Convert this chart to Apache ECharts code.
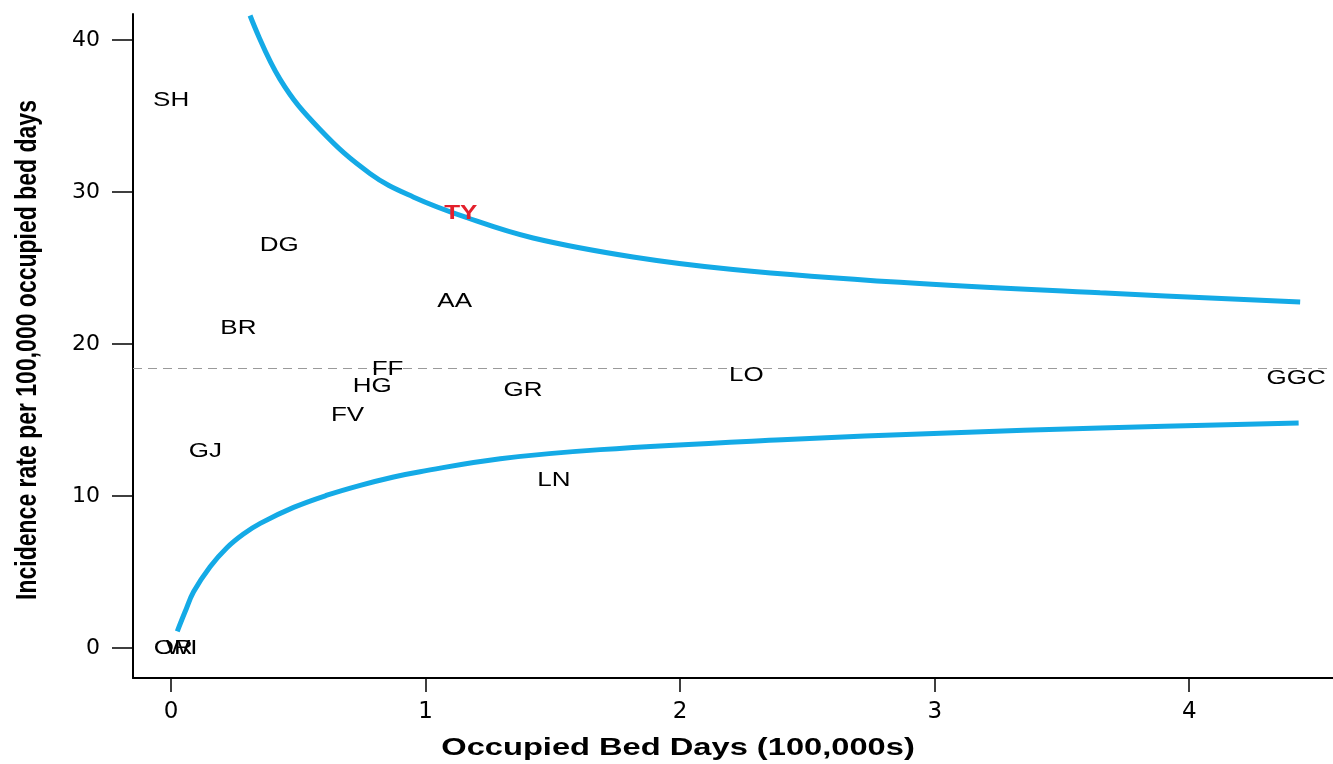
<!DOCTYPE html>
<html>
<head>
<meta charset="utf-8">
<title>Funnel plot</title>
<script src="https://cdn.jsdelivr.net/npm/echarts@6/dist/echarts.min.js"></script>
<style>
  html, body { margin: 0; padding: 0; background: #fff; }
  #chart { width: 1333px; height: 764px; }
</style>
</head>
<body>
<div id="chart"></div>
<script>
// hospital labels and their positions (x = bed days in 100,000s, y = rate)
var sites = ['SH', 'DG', 'TY', 'AA', 'BR', 'FF', 'HG', 'FV', 'GR', 'LO', 'GGC', 'GJ', 'LN', 'OR', 'WI'];
var siteX = [0.0, 0.425, 1.138, 1.114, 0.264, 0.85, 0.79, 0.693, 1.382, 2.26, 4.42, 0.134, 1.504, 0.008, 0.041];
var siteY = [36.0, 26.5, 28.55, 22.8, 21.0, 18.3, 17.2, 15.3, 16.97, 17.9, 17.76, 12.96, 11.05, 0, 0];
var outlier = 'TY';

// control limits
var upperX = [0.31, 0.428, 0.585, 0.782, 0.951, 1.163, 1.422, 1.815, 2.208, 2.864, 3.65, 4.436];
var upperY = [41.6, 37.4, 34.1, 31.2, 29.67, 28.3, 26.97, 25.72, 24.9, 24.05, 23.36, 22.76];
var lowerX = [0.024, 0.055, 0.088, 0.153, 0.219, 0.284, 0.35, 0.481, 0.612, 0.743, 0.874, 0.978, 1.293, 1.686, 2.4, 3.05, 3.65, 4.43];
var lowerY = [1.1, 2.4, 3.7, 5.35, 6.6, 7.5, 8.2, 9.25, 10.05, 10.7, 11.25, 11.6, 12.45, 13.05, 13.7, 14.15, 14.47, 14.8];

var meanRate = 18.4;

var xTicks = [0, 1, 2, 3, 4];
var yTicks = [0, 10, 20, 30, 40];
var xTitle = 'Occupied Bed Days (100,000s)';
var yTitle = 'Incidence rate per 100,000 occupied bed days';

function pairs(xs, ys) {
  return xs.map(function (x, i) { return [x, ys[i]]; });
}

var myChart = echarts.init(document.getElementById('chart'));

var option = {
  animation: false,
  backgroundColor: '#fff',
  grid: { left: 133, right: 0, top: 14, bottom: 86 },
  xAxis: {
    type: 'value',
    min: -0.15,
    max: 4.565,
    splitLine: { show: false },
    axisLine: { onZero: false, lineStyle: { color: '#000', width: 2 } },
    axisTick: { customValues: xTicks, length: 14, lineStyle: { color: '#000', width: 1.5 } },
    axisLabel: {
      customValues: xTicks,
      margin: 23,
      color: '#000',
      fontFamily: 'DejaVu Sans',
      fontSize: 23
    }
  },
  yAxis: {
    type: 'value',
    min: -1.97,
    max: 41.7,
    splitLine: { show: false },
    axisLine: { onZero: false, lineStyle: { color: '#000', width: 2 } },
    axisTick: { customValues: yTicks, length: 21, lineStyle: { color: '#000', width: 1.5 } },
    axisLabel: {
      customValues: yTicks,
      margin: 33,
      color: '#000',
      fontFamily: 'DejaVu Sans',
      fontSize: 22
    }
  },
  graphic: [
    {
      type: 'text', x: 678, y: 748, scaleX: 1.36,
      style: { text: xTitle, font: 'bold 24px "Liberation Sans"', fill: '#000', align: 'center', verticalAlign: 'middle' }
    },
    {
      type: 'text', x: 28, y: 350, rotation: Math.PI / 2, scaleY: 1.3,
      style: { text: yTitle, font: 'bold 23px "Liberation Sans"', fill: '#000', align: 'center', verticalAlign: 'middle' }
    }
  ],
  series: [
    {
      name: 'upper',
      type: 'line',
      smooth: 0.4,
      symbol: 'none',
      lineStyle: { color: '#14aae6', width: 5 },
      data: pairs(upperX, upperY),
      markLine: {
        silent: true,
        symbol: 'none',
        label: { show: false },
        lineStyle: { color: '#9a9a9a', type: [9, 6], width: 1.2 },
        data: [{ yAxis: meanRate }]
      }
    },
    {
      name: 'lower',
      type: 'line',
      smooth: 0.4,
      symbol: 'none',
      lineStyle: { color: '#14aae6', width: 5 },
      data: pairs(lowerX, lowerY)
    },
    {
      name: 'sites',
      type: 'custom',
      z: 5,
      renderItem: function (params, api) {
        var p = api.coord([api.value(0), api.value(1)]);
        var name = sites[params.dataIndex];
        var hot = name === outlier;
        return {
          type: 'text',
          x: p[0],
          y: p[1],
          scaleX: 1.3,
          style: {
            text: name,
            font: (hot ? 'bold ' : '') + '20px "Liberation Sans"',
            fill: hot ? '#e3202c' : '#000',
            align: 'center',
            verticalAlign: 'middle'
          }
        };
      },
      data: pairs(siteX, siteY)
    }
  ]
};

myChart.setOption(option);
</script>
</body>
</html>
